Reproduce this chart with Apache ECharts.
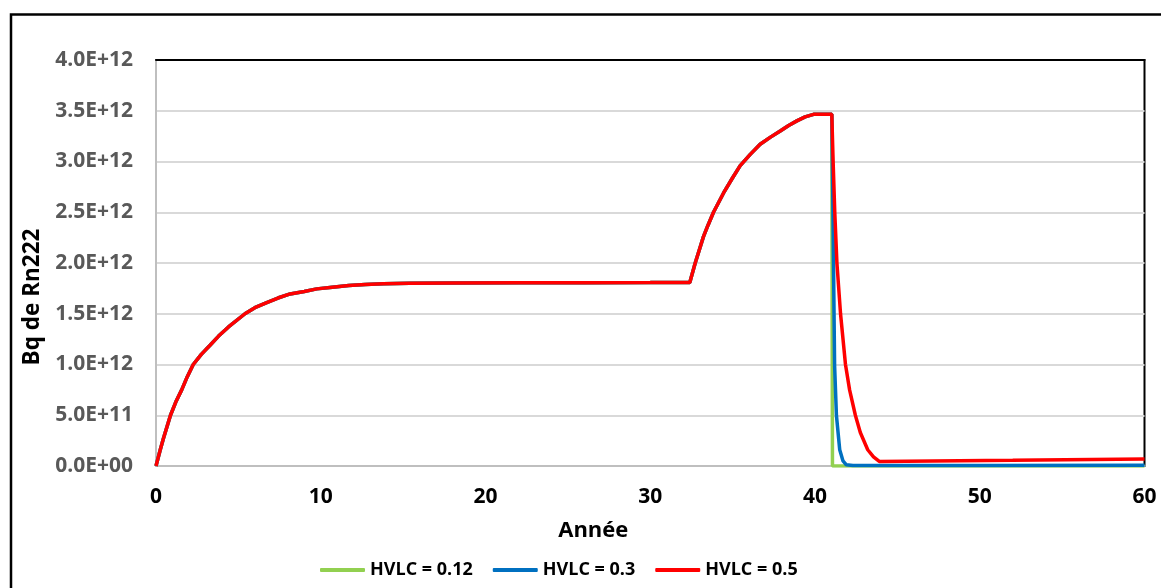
<!DOCTYPE html>
<html>
<head>
<meta charset="utf-8">
<script src="https://cdn.jsdelivr.net/npm/echarts@6/dist/echarts.min.js"></script>
<style>
html,body{margin:0;padding:0;background:#fff;}
#chart{width:1161px;height:588px;}
</style>
</head>
<body>
<div id="chart"></div>
<script>
// Common build-up (identical for all three HVLC values until ~41 years)
const commonYears = [0,0.25,0.45,0.88,1.2,1.56,1.9,2.26,2.75,3.28,3.8,4.4,5.4,6.0,6.72,7.4,8.14,9.0,9.76,10.7,11.7,12.7,13.8,15.4,18,22,26,30,32.4,
  32.73,33.0,33.23,33.5,33.84,34.45,35.0,35.46,36.07,36.67,37.3,37.89,38.4,38.9,39.4,39.91,41.02];
const commonValues = [0,0.155e12,0.27e12,0.5e12,0.63e12,0.75e12,0.88e12,1.0e12,1.10e12,1.19e12,1.28e12,1.37e12,1.50e12,1.56e12,1.61e12,1.655e12,1.695e12,1.72e12,1.745e12,1.762e12,1.778e12,1.788e12,1.795e12,1.80e12,1.803e12,1.805e12,1.806e12,1.807e12,1.808e12,
  2.0e12,2.14e12,2.26e12,2.37e12,2.50e12,2.69e12,2.84e12,2.96e12,3.07e12,3.17e12,3.24e12,3.30e12,3.355e12,3.40e12,3.44e12,3.465e12,3.465e12];

// Decay after closure, per HVLC value
const greenYears = [41.06,60];
const greenValues = [0,0];
const blueYears = [41.09,41.19,41.3,41.5,41.7,41.9,42.3,50,60];
const blueValues = [2.5e12,0.99e12,0.5e12,0.16e12,0.05e12,0.012e12,0.005e12,0.006e12,0.008e12];
const redYears = [41.1,41.2,41.33,41.55,41.85,42.1,42.45,42.75,43.2,43.55,43.9,52,60];
const redValues = [3.0e12,2.5e12,2.0e12,1.5e12,1.0e12,0.75e12,0.50e12,0.33e12,0.16e12,0.09e12,0.045e12,0.057e12,0.07e12];

const seriesNames = ['HVLC = 0.12','HVLC = 0.3','HVLC = 0.5'];
const seriesColors = ['#92d050','#0070c0','#ff0000'];
const xTicks = [0,10,20,30,40,50,60];

function build(years, values){
  const out = [];
  for (let i=0;i<commonYears.length;i++) out.push([commonYears[i], commonValues[i]]);
  for (let i=0;i<years.length;i++) out.push([years[i], values[i]]);
  return out;
}
const dataSets = [build(greenYears,greenValues), build(blueYears,blueValues), build(redYears,redValues)];

function fmtY(v){
  if (v === 0) return '0.0E+00';
  const e = Math.floor(Math.log10(Math.abs(v)) + 1e-9);
  const m = v / Math.pow(10, e);
  return m.toFixed(1) + 'E+' + String(e).padStart(2,'0');
}

const FONT = 'Open Sans';
const chart = echarts.init(document.getElementById('chart'), null, {renderer:'canvas'});
chart.setOption({
  animation:false,
  backgroundColor:'#ffffff',
  graphic:[{
    type:'rect', z:100, silent:true,
    shape:{x:11, y:14.5, width:1200, height:620},
    style:{fill:'none', stroke:'#000', lineWidth:2.5}
  }],
  grid:{left:156, right:16.5, top:60, bottom:122, show:true, borderColor:'#000', borderWidth:2, backgroundColor:'transparent'},
  legend:{
    left:315, top:556,
    icon:'roundRect',
    itemWidth:45, itemHeight:4, itemGap:20,
    textStyle:{fontFamily:FONT, fontWeight:'bold', fontSize:18, color:'#000'},
    data:seriesNames
  },
  xAxis:[{
    type:'value', min:0, max:60, interval:10,
    name:'Année', nameLocation:'middle', nameGap:54,
    nameTextStyle:{fontFamily:FONT, fontWeight:'bold', fontSize:22, color:'#000', padding:[0,114,0,0]},
    axisLine:{show:true, onZero:false, lineStyle:{color:'#bfbfbf', width:2}},
    axisTick:{show:false},
    splitLine:{show:false},
    axisLabel:{margin:21, fontFamily:FONT, fontWeight:'bold', fontSize:21, color:'#000',
      formatter:function(v){ return xTicks.indexOf(v) >= 0 ? String(v) : ''; }}
  },{
    type:'value', min:0, max:60, interval:10, position:'top',
    axisLine:{show:true, onZero:false, lineStyle:{color:'#000', width:2}},
    axisTick:{show:false}, axisLabel:{show:false}, splitLine:{show:false}
  }],
  yAxis:{
    type:'value', min:0, max:4e12, interval:5e11,
    name:'Bq de Rn222', nameLocation:'middle', nameGap:103,
    nameTextStyle:{fontFamily:FONT, fontWeight:'bold', fontSize:22.5, color:'#000', padding:[0,68,0,0]},
    axisLine:{show:true, lineStyle:{color:'#bfbfbf', width:2}},
    axisTick:{show:false},
    splitLine:{show:true, lineStyle:{color:'#d9d9d9', width:2}},
    axisLabel:{margin:23, fontFamily:FONT, fontWeight:'bold', fontSize:21, color:'#595959', formatter:fmtY}
  },
  series: seriesNames.map(function(n,i){
    return {
      name:n, type:'line', data:dataSets[i], symbol:'none', showSymbol:false,
      lineStyle:{color:seriesColors[i], width:3.5}, itemStyle:{color:seriesColors[i]},
      clip:true
    };
  })
});
</script>
</body>
</html>
